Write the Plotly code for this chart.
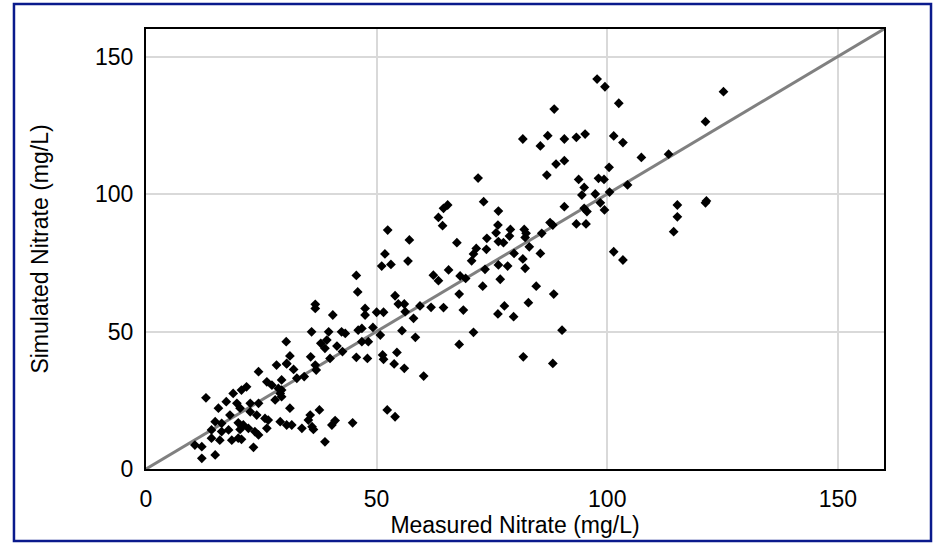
import plotly.graph_objects as go

measured = [
    97.8, 99.5, 102.5, 125.2, 121.3, 90.7, 93.3, 95.2, 101.4, 103.4, 107.4, 113.3, 90.7, 100.4, 93.8, 98.1, 99.3, 95.0,
    94.5, 97.4, 98.5, 100.5, 104.4, 90.7, 95.0, 95.6, 99.4, 93.3, 95.4, 115.2, 115.2, 114.4, 121.3, 121.5, 101.4, 103.4,
    86.9, 88.9, 85.5, 81.7, 87.1, 88.5,
    72.0, 73.2, 65.4, 64.5, 63.4, 64.3, 76.4, 67.4, 76.3, 75.9, 79.0, 78.8, 73.9, 76.4, 77.5, 82.0, 82.4, 82.2, 87.6,
    88.2, 85.8, 71.6, 71.0, 70.6, 73.8, 83.1, 85.5, 79.8, 81.7, 82.2, 76.4, 78.4, 73.5, 65.6, 62.3, 63.4, 68.1, 69.3,
    76.8, 73.0, 84.6, 67.9, 88.4, 59.4, 61.8, 64.5, 68.8, 77.7, 76.3, 79.7, 82.9, 90.2, 71.0, 67.9, 81.8, 88.2, 60.2,
    52.4, 57.1, 51.8, 51.1, 53.1, 56.8, 45.6, 45.9, 54.0, 54.7, 56.0, 47.5,
    36.7, 36.7, 40.5, 47.5, 50.0, 51.5, 56.2, 58.0, 35.9, 39.6, 42.4, 43.2, 46.0, 46.8, 49.2, 50.8, 55.5, 58.4, 30.4,
    37.9, 38.8, 39.2, 41.4, 42.6, 46.8, 48.2, 45.6, 48.0, 51.3, 51.5, 54.4, 53.8, 56.0, 35.7, 39.9, 31.2, 30.5, 32.0,
    36.7, 36.9, 32.7, 34.3, 29.4, 29.4, 29.4, 31.2, 37.6, 35.6, 35.2, 52.3, 54.0, 41.0, 40.3, 44.8, 31.6, 33.8, 36.0,
    36.3, 38.8,
    28.3, 30.5, 24.4, 26.2, 27.3, 28.7, 29.1, 28.0, 21.8, 20.7, 18.9, 13.0, 17.4, 15.7, 19.7, 20.4, 22.6, 24.4, 22.6,
    18.2, 24.0, 25.8, 26.5, 15.0, 16.4, 20.0, 21.1, 29.1, 30.5, 26.2, 14.2, 16.4, 17.9, 20.4, 22.2, 23.6, 24.4, 14.2,
    16.0, 18.6, 20.0, 20.7, 10.6, 12.1, 23.3, 12.1, 15.0,
]

simulated = [
    141.8, 139.0, 133.0, 137.2, 126.3, 120.0, 120.6, 121.8, 121.1, 118.7, 113.3, 114.5, 112.1, 109.7, 105.3, 105.7, 105.3, 102.4,
    99.6, 100.0, 96.8, 100.7, 103.3, 95.4, 94.8, 93.6, 94.2, 89.1, 89.1, 96.0, 91.7, 86.3, 96.8, 97.5, 79.0, 76.0,
    106.9, 110.9, 117.5, 120.0, 121.2, 130.9,
    105.8, 97.2, 96.0, 94.8, 91.5, 88.5, 93.8, 82.3, 88.7, 85.9, 87.1, 84.7, 83.9, 82.7, 82.3, 87.1, 85.7, 84.2, 89.6,
    88.7, 85.7, 80.2, 78.2, 75.7, 79.9, 80.8, 78.4, 78.4, 76.4, 73.0, 74.2, 73.8, 72.6, 72.4, 70.5, 68.5, 70.2, 69.3,
    69.0, 66.5, 66.5, 63.6, 63.6, 59.3, 58.8, 58.7, 57.8, 59.3, 56.4, 55.4, 60.5, 50.5, 49.7, 45.3, 40.8, 38.4, 33.8,
    86.9, 83.3, 78.2, 73.8, 74.4, 75.6, 70.4, 64.4, 63.0, 60.0, 60.0, 58.4,
    59.9, 58.4, 56.0, 56.0, 57.0, 57.0, 57.2, 54.8, 49.9, 49.9, 49.9, 49.3, 50.5, 51.1, 51.5, 48.7, 50.3, 47.9, 46.3,
    45.7, 43.9, 46.9, 44.7, 42.7, 46.3, 46.3, 40.6, 40.2, 41.5, 39.9, 42.4, 38.2, 36.6, 40.8, 40.2, 41.1, 38.2, 36.2,
    37.8, 36.0, 33.0, 33.6, 32.4, 28.7, 26.3, 22.1, 21.5, 19.6, 17.8, 21.5, 19.0, 17.6, 16.0, 16.8, 16.0, 14.8, 15.4,
    14.4, 9.9,
    37.8, 38.4, 35.4, 31.7, 30.5, 29.3, 27.5, 25.1, 29.9, 28.7, 27.5, 25.9, 24.5, 22.1, 23.9, 22.1, 23.9, 23.9, 20.8,
    19.6, 19.6, 18.4, 17.8, 17.2, 16.6, 16.8, 16.0, 17.2, 16.0, 14.8, 14.2, 13.6, 14.2, 14.4, 14.8, 13.6, 12.4, 11.2,
    10.5, 10.5, 11.2, 10.8, 8.7, 8.1, 7.9, 3.9, 5.1,
]

one_to_one = [0, 160]
tick_values = [0, 50, 100, 150]
tick_labels = ["0", "50", "100", "150"]

FONT = "Liberation Sans, Arial, sans-serif"
FS = 23

fig = go.Figure()
fig.add_trace(go.Scatter(
    x=one_to_one, y=one_to_one, mode="lines",
    line=dict(color="#808080", width=3), hoverinfo="skip", showlegend=False,
))
fig.add_trace(go.Scatter(
    x=measured, y=simulated, mode="markers",
    marker=dict(symbol="diamond", size=7.5, color="black", line=dict(width=0)),
    showlegend=False,
))

axis_common = dict(
    range=[0, 160], tickvals=tick_values, ticktext=tick_labels,
    showgrid=True, gridcolor="#d9d9d9", gridwidth=1.5,
    showline=True, linecolor="black", linewidth=2, mirror=True,
    zeroline=False, ticks="",
    tickfont=dict(family=FONT, size=FS, color="#000000"),
)

fig.update_layout(
    width=935, height=544,
    margin=dict(l=146, r=51, t=29, b=75, autoexpand=False),
    paper_bgcolor="white", plot_bgcolor="white",
    font=dict(family=FONT, color="#000000"),
    xaxis=dict(**axis_common, ticklabelstandoff=8,
               title=dict(text="Measured Nitrate (mg/L)", font=dict(family=FONT, size=FS), standoff=5)),
    yaxis=dict(**axis_common, ticklabelstandoff=6,
               title=dict(text="Simulated Nitrate (mg/L)", font=dict(family=FONT, size=FS), standoff=40)),
    shapes=[dict(type="rect", xref="paper", yref="paper",
                 x0=-0.1789, x1=1.0637, y0=-0.1636, y1=1.0568,
                 line=dict(color="#0a1a8c", width=2.5), fillcolor="rgba(0,0,0,0)", layer="above")],
)

fig.write_html("out.html", config={"displayModeBar": False},
               post_script="document.body.style.margin='0';")
